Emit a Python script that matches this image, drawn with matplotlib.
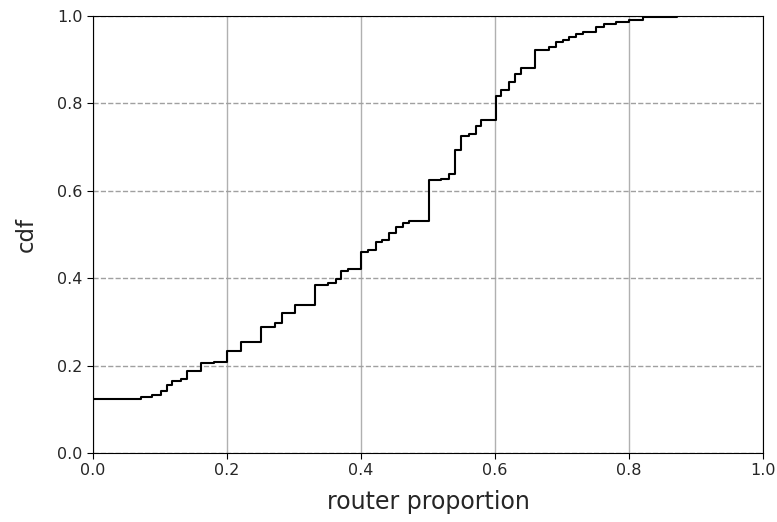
import matplotlib
matplotlib.use('Agg')
import matplotlib.pyplot as plt

# step positions (router proportion) and cdf level after each step
xs = [0.0, 0.071, 0.0875, 0.101, 0.110, 0.118, 0.131, 0.140, 0.161, 0.180,
      0.200, 0.221, 0.251, 0.272, 0.282, 0.301, 0.331, 0.350, 0.363, 0.370,
      0.380, 0.400, 0.411, 0.422, 0.432, 0.442, 0.452, 0.462, 0.472, 0.502,
      0.519, 0.532, 0.540, 0.549, 0.561, 0.571, 0.579, 0.601, 0.609, 0.621,
      0.630, 0.639, 0.660, 0.681, 0.691, 0.702, 0.711, 0.721, 0.732, 0.750,
      0.762, 0.781, 0.800, 0.821, 0.871]
ys = [0.124, 0.128, 0.133, 0.143, 0.155, 0.165, 0.170, 0.188, 0.206, 0.209,
      0.234, 0.253, 0.289, 0.297, 0.320, 0.338, 0.384, 0.389, 0.398, 0.417,
      0.422, 0.459, 0.464, 0.482, 0.487, 0.504, 0.518, 0.527, 0.532, 0.625,
      0.628, 0.639, 0.693, 0.725, 0.731, 0.748, 0.761, 0.817, 0.830, 0.848,
      0.867, 0.882, 0.923, 0.928, 0.941, 0.946, 0.952, 0.959, 0.964, 0.976,
      0.982, 0.987, 0.991, 0.998, 1.0]

fig = plt.figure(figsize=(7.77, 5.22), dpi=100)
ax = fig.add_axes([0.1197, 0.1322, 0.8623, 0.8371])

ax.plot(xs, ys, drawstyle='steps-post', color='black', lw=1.5)

ax.set_xlim(0, 1)
ax.set_ylim(0, 1)
ax.xaxis.grid(True, color='#b0b0b0', lw=1.0)
ax.yaxis.grid(True, color='#a0a0a0', ls='--', lw=1.0)
ax.set_axisbelow(True)
ax.tick_params(labelsize=11.5, length=4.5, pad=3, labelcolor='#262626')
ax.set_xlabel('router proportion', fontsize=17, labelpad=8, color='#262626')
ax.set_ylabel('cdf', fontsize=16.5, labelpad=14, color='#262626')

fig.savefig('out.png', dpi=100)
